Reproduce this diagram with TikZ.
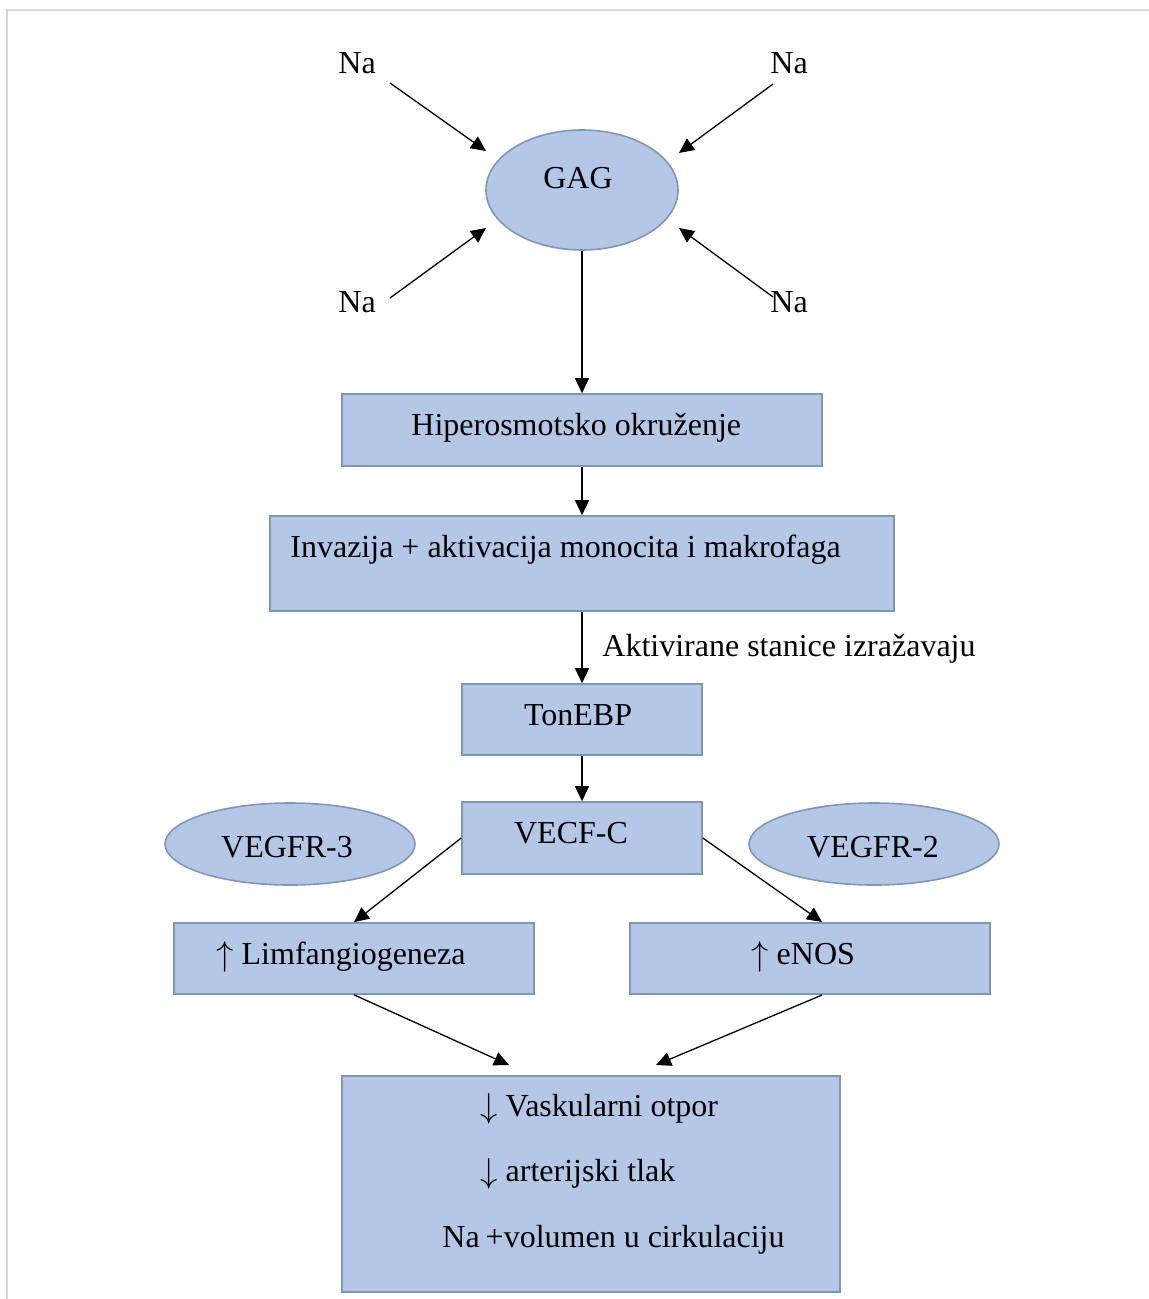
\documentclass[tikz,border=0pt]{standalone}
\usepackage{fontspec}
\setmainfont{Liberation Serif}
\usetikzlibrary{arrows.meta,shapes.geometric}
\definecolor{boxfill}{RGB}{180,199,231}
\definecolor{boxline}{RGB}{128,150,184}
\definecolor{frameline}{RGB}{215,215,215}
\newcommand{\upar}{\raisebox{-0.5pt}{$\uparrow$}}
\newcommand{\dnar}{\raisebox{-0.5pt}{$\downarrow$}}
\begin{document}
\begin{tikzpicture}[x=0.5pt,y=-0.5pt,
  boxshape/.style={draw=boxline,fill=boxfill,line width=0.8pt,inner sep=0pt,rectangle},
  ovalshape/.style={draw=boxline,fill=boxfill,line width=0.8pt,inner sep=0pt,ellipse},
  txt/.style={inner sep=0pt,anchor=base west,font=\fontsize{16}{19}\selectfont},
  ctxt/.style={inner sep=0pt,anchor=base,font=\fontsize{16}{19}\selectfont},
  conn/.style={line width=0.65pt,-{Triangle[length=7.5pt,width=7pt]}}]
\useasboundingbox (0,0) rectangle (1149,1299);
% frame
\draw[frameline,line width=1pt] (7,1299) -- (7,10) -- (1149,10);

% shapes
\node[ovalshape,minimum width=96pt,minimum height=60pt] (gag) at (582,190) {};
\node[boxshape,minimum width=240pt,minimum height=36pt] (hip) at (582,430) {};
\node[boxshape,minimum width=312pt,minimum height=47.5pt] (inv) at (582,563.5) {};
\node[boxshape,minimum width=120pt,minimum height=35.5pt] (ton) at (582,719.5) {};
\node[boxshape,minimum width=120pt,minimum height=36pt] (vec) at (582,838) {};
\node[ovalshape,minimum width=125pt,minimum height=41pt] (vr3) at (290,844) {};
\node[ovalshape,minimum width=125pt,minimum height=41pt] (vr2) at (874,844) {};
\node[boxshape,minimum width=180pt,minimum height=35.5pt] (limf) at (354,958.5) {};
\node[boxshape,minimum width=180pt,minimum height=35.5pt] (enos) at (810,958.5) {};
\node[boxshape,minimum width=249pt,minimum height=108pt] (bot) at (591,1184) {};

% texts
\node[txt] (na1) at (338,74) {Na};
\node[txt] (na2) at (770,74) {Na};
\node[txt] (na3) at (338,313) {Na};
\node[txt] (na4) at (770,313) {Na};
\node[ctxt] (tgag) at (578,189) {GAG};
\node[txt] (thip) at (411,435) {Hiperosmotsko okruženje};
\node[txt] (tinv) at (290,557) {Invazija + aktivacija monocita i makrofaga};
\node[txt] (takt) at (602,656) {Aktivirane stanice izražavaju};
\node[ctxt] (tton) at (578,725) {TonEBP};
\node[ctxt] (tvec) at (571,843) {VECF-C};
\node[ctxt] (tvr3) at (287,857) {VEGFR-3};
\node[ctxt] (tvr2) at (873,857) {VEGFR-2};
\node[txt] (tlimf) at (216,964) {\upar{} Limfangiogeneza};
\node[txt] (tenos) at (751,964) {\upar{} eNOS};
\node[txt] (tb1) at (480,1116) {\dnar{} Vaskularni otpor};
\node[txt] (tb2) at (480,1181) {\dnar{} arterijski tlak};
\node[txt] (tb3) at (442,1247) {Na\hspace{-1pt} +volumen u cirkulaciju};

% connector ends
\coordinate (s1) at (390,83);
\coordinate (e1) at (486,151);
\coordinate (s2) at (773,84);
\coordinate (e2) at (679,153);
\coordinate (s3) at (390,298);
\coordinate (e3) at (486,228);
\coordinate (s4) at (773,297);
\coordinate (e4) at (679,228);
\coordinate (s5) at (822,995);
\coordinate (e5) at (509,1065);
\coordinate (e6) at (656,1065);
\coordinate (e7) at (822,922);

% connectors
\draw[conn] (s1) -- (e1);
\draw[conn] (s2) -- (e2);
\draw[conn] (s3) -- (e3);
\draw[conn] (s4) -- (e4);
\draw[conn] (gag.south) -- (hip.north);
\draw[conn] (hip.south) -- (inv.north);
\draw[conn] (inv.south) -- (ton.north);
\draw[conn] (ton.south) -- (vec.north);
\draw[conn] (vec.west) -- (limf.north);
\draw[conn] (vec.east) -- (e7);
\draw[conn] (limf.south) -- (e5);
\draw[conn] (s5) -- (e6);
\end{tikzpicture}
\end{document}
